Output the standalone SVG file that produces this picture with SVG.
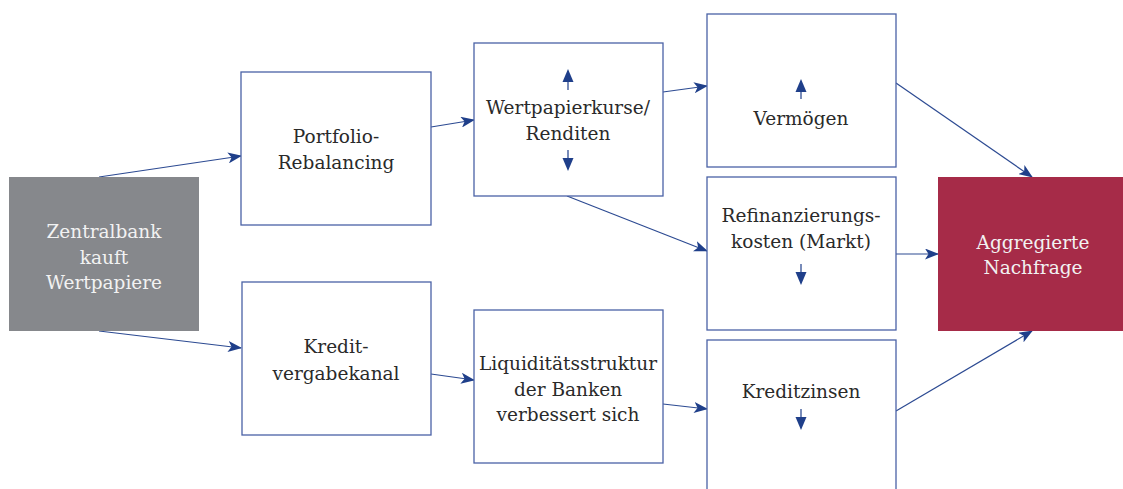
<svg xmlns="http://www.w3.org/2000/svg" width="1123" height="489" viewBox="0 0 1123 489">
<defs>
<marker id="ah" viewBox="0 0 14 11" refX="13" refY="5.5" markerWidth="14" markerHeight="11" markerUnits="userSpaceOnUse" orient="auto">
<path d="M0,0 L14,5.5 L0,11 L3.5,5.5 Z" fill="#1f3f8a"/>
</marker>
<style>
.box{fill:#fff;stroke:#4a62a6;stroke-width:1.3}
.t{font-family:"DejaVu Serif","Liberation Serif",serif;font-size:18.5px;fill:#2a2a2a;text-anchor:middle}
.w{fill:#f2f2f2}
.c{stroke:#2c4a92;stroke-width:1.2;fill:none;marker-end:url(#ah)}
.s{stroke:#1f3f8a;stroke-width:1.2;fill:none}
.h{fill:#1f3f8a}
</style>
</defs>
<rect width="1123" height="489" fill="#fff"/>
<g id="connectors">
<line class="c" x1="99" y1="177" x2="241" y2="156"/>
<line class="c" x1="99" y1="331" x2="241" y2="348"/>
<line class="c" x1="431" y1="127" x2="474" y2="120"/>
<line class="c" x1="431" y1="374" x2="474" y2="380"/>
<line class="c" x1="663" y1="92" x2="707" y2="86"/>
<line class="c" x1="567" y1="196" x2="707" y2="251"/>
<line class="c" x1="663" y1="404" x2="707" y2="409"/>
<line class="c" x1="896" y1="83" x2="1032" y2="177"/>
<line class="c" x1="896" y1="254" x2="938" y2="254"/>
<line class="c" x1="896" y1="411" x2="1032" y2="331"/>
</g>
<g id="zentralbank">
<rect x="9" y="177" width="190" height="154" fill="#86888c"/>
<text class="t w" x="104" y="238">Zentralbank</text>
<text class="t w" x="104" y="264">kauft</text>
<text class="t w" x="104" y="289">Wertpapiere</text>
</g>
<g id="portfolio">
<rect class="box" x="241" y="72" width="190" height="153"/>
<text class="t" x="336" y="143">Portfolio-</text>
<text class="t" x="336" y="169">Rebalancing</text>
</g>
<g id="kredit">
<rect class="box" x="242" y="282" width="189" height="153"/>
<text class="t" x="336" y="353">Kredit-</text>
<text class="t" x="336" y="380">vergabekanal</text>
</g>
<g id="wertpapier">
<rect class="box" x="474" y="43" width="189" height="153"/>
<text class="t" x="568" y="114">Wertpapierkurse/</text>
<text class="t" x="568" y="140">Renditen</text>
<line class="s" x1="568" y1="90" x2="568" y2="80"/>
<polygon class="h" points="568,69 562.5,82 573.5,82"/>
<line class="s" x1="568" y1="150" x2="568" y2="160"/>
<polygon class="h" points="568,171 562.5,158 573.5,158"/>
</g>
<g id="liquiditaet">
<rect class="box" x="474" y="310" width="189" height="153"/>
<text class="t" x="568" y="370">Liquiditätsstruktur</text>
<text class="t" x="568" y="396">der Banken</text>
<text class="t" x="568" y="421">verbessert sich</text>
</g>
<g id="vermoegen">
<rect class="box" x="707" y="14" width="189" height="153"/>
<line class="s" x1="801" y1="99" x2="801" y2="90"/>
<polygon class="h" points="801,79 795.5,92 806.5,92"/>
<text class="t" x="801" y="125">Vermögen</text>
</g>
<g id="refinanzierung">
<rect class="box" x="707" y="177" width="189" height="153"/>
<text class="t" x="801" y="222">Refinanzierungs-</text>
<text class="t" x="801" y="248">kosten (Markt)</text>
<line class="s" x1="801" y1="264" x2="801" y2="272"/>
<polygon class="h" points="801,285 795.5,272 806.5,272"/>
</g>
<g id="kreditzinsen">
<rect class="box" x="707" y="340" width="189" height="160"/>
<text class="t" x="801" y="398">Kreditzinsen</text>
<line class="s" x1="801" y1="409" x2="801" y2="417"/>
<polygon class="h" points="801,430 795.5,417 806.5,417"/>
</g>
<g id="nachfrage">
<rect x="938" y="177" width="186" height="154" fill="#a62b48"/>
<text class="t w" x="1033" y="249">Aggregierte</text>
<text class="t w" x="1033" y="274">Nachfrage</text>
</g>
</svg>
